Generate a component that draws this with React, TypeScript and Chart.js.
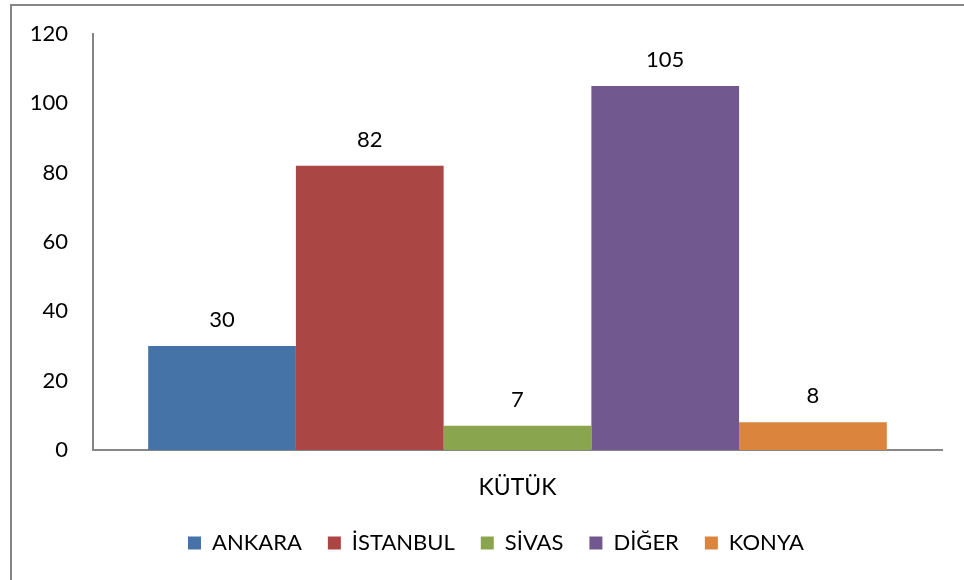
import React, { useEffect, useRef } from "react";
import { Chart, registerables } from "chart.js";

Chart.register(...registerables);

const categories = ["KÜTÜK"];
const seriesNames = ["ANKARA", "İSTANBUL", "SİVAS", "DİĞER", "KONYA"];
const seriesValues = [[30], [82], [7], [105], [8]];
const seriesColors = ["#4572A7", "#AA4643", "#89A54E", "#71588F", "#DB843D"];
const yTicks = [0, 20, 40, 60, 80, 100, 120];

const FONT = "Lato, 'Noto Sans', sans-serif";

const framePlugin = {
  id: "frame",
  beforeDraw(chart: any) {
    const ctx = chart.ctx;
    ctx.save();
    ctx.fillStyle = "#ffffff";
    ctx.fillRect(0, 0, chart.width, chart.height);
    ctx.strokeStyle = "#868686";
    ctx.lineWidth = 2;
    ctx.strokeRect(11, 5, chart.width + 20, chart.height + 20);
    ctx.restore();
  },
};

const legendShiftPlugin = {
  id: "legendShift",
  afterLayout(chart: any) {
    const lg = chart.legend;
    if (lg) {
      lg.left += 20;
      lg.right += 20;
    }
  },
};

const labelPlugin = {
  id: "valueLabels",
  afterDatasetsDraw(chart: any) {
    const ctx = chart.ctx;
    ctx.save();
    ctx.font = `22px ${FONT}`;
    ctx.fillStyle = "#000000";
    ctx.textAlign = "center";
    ctx.textBaseline = "middle";
    chart.data.datasets.forEach((ds: any, i: number) => {
      const meta = chart.getDatasetMeta(i);
      meta.data.forEach((el: any, j: number) => {
        ctx.fillText(String(ds.data[j]), el.x, el.y - 26);
      });
    });
    ctx.restore();
  },
};

export default function App() {
  const ref = useRef<HTMLCanvasElement>(null);
  useEffect(() => {
    if (!ref.current) return;
    const chart = new Chart(ref.current, {
      type: "bar",
      data: {
        labels: categories,
        datasets: seriesNames.map((name, i) => ({
          label: name,
          data: seriesValues[i],
          backgroundColor: seriesColors[i],
          borderWidth: 0,
          barPercentage: 1,
          categoryPercentage: 0.87,
        })),
      },
      options: {
        responsive: false,
        animation: false,
        layout: { padding: { left: 10, right: 22, top: 34, bottom: 16 } },
        plugins: {
          tooltip: { enabled: false },
          legend: {
            position: "bottom",
            labels: {
              boxWidth: 13,
              boxHeight: 13,
              padding: 26,
              color: "#000000",
              font: { family: FONT, size: 22 },
            },
          },
        },
        scales: {
          x: {
            grid: { display: false, drawTicks: false },
            border: { display: true, color: "#868686", width: 2 },
            ticks: { color: "#000000", padding: 24, font: { family: FONT, size: 23 } },
            afterFit: (s: any) => {
              s.height = 56;
            },
          },
          y: {
            min: 0,
            max: 120,
            afterBuildTicks: (s: any) => {
              s.ticks = yTicks.map((v) => ({ value: v }));
            },
            grid: { display: false, drawTicks: false },
            border: { display: true, color: "#868686", width: 2 },
            ticks: { color: "#000000", padding: 25, font: { family: FONT, size: 22 } },
            afterFit: (s: any) => {
              s.width = 83;
              s.paddingTop = 0;
              s.paddingBottom = 0;
            },
          },
        },
      },
      plugins: [framePlugin, legendShiftPlugin, labelPlugin],
    });
    return () => chart.destroy();
  }, []);
  return (
    <div style={{ position: "absolute", left: 0, top: 0, width: 964, height: 580 }}>
      <canvas ref={ref} width={964} height={580} />
    </div>
  );
}
